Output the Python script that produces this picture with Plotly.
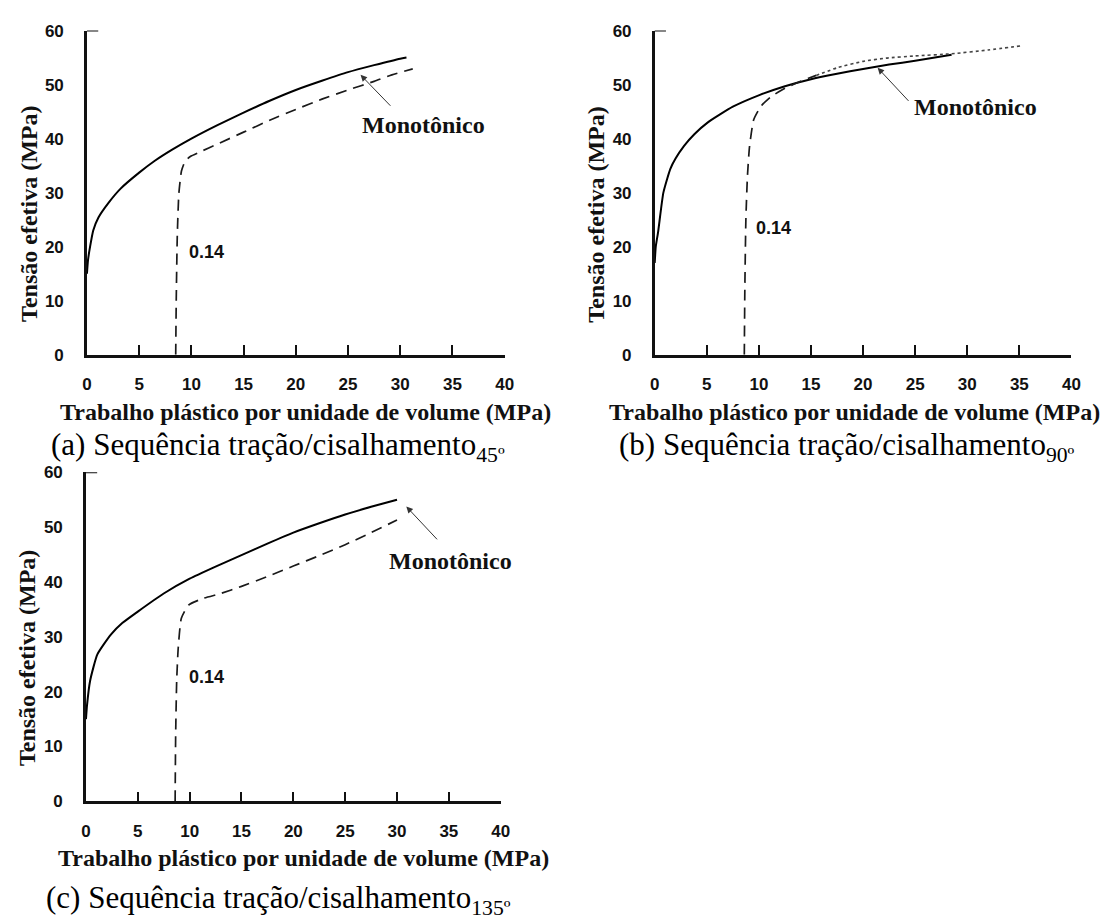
import plotly.graph_objects as go

# ---------------- data ----------------
a_mono_x = [0, 0.1, 0.3, 0.6, 1.1, 2.1, 3.2, 5, 6.5, 8.2, 10, 12.5, 15, 17.5, 20, 22.5, 25, 27.5, 30, 30.6]
a_mono_y = [15, 17.5, 20, 23, 25.4, 28.2, 30.7, 33.7, 35.9, 38.0, 40, 42.5, 44.8, 47.0, 49.0, 50.7, 52.3, 53.6, 54.8, 55.0]
a_pre_x = [8.5, 8.55, 8.65, 8.8, 9.05, 9.4, 9.9, 10.9, 12.5, 15, 17.5, 20, 22.5, 25, 27.5, 29.2, 31.2]
a_pre_y = [0, 10, 22, 29.8, 34, 35.8, 36.7, 37.6, 39.0, 41.2, 43.4, 45.4, 47.3, 49.0, 50.6, 51.8, 52.9]

b_mono_x = [0, 0.1, 0.33, 0.83, 1.5, 2.0, 2.8, 3.8, 5.1, 7.5, 10.1, 12.5, 15, 17.5, 20, 22.5, 25, 28.5]
b_mono_y = [17, 20, 22.8, 30.0, 34.4, 36.3, 38.6, 40.8, 43, 45.9, 48.1, 49.7, 51.0, 52.0, 52.9, 53.7, 54.4, 55.5]
b_pre_x = [8.6, 8.65, 8.75, 8.9, 9.1, 9.5, 10.2, 11.2, 12.5, 14, 15.5]
b_pre_y = [0, 12, 25, 33, 38.5, 43.5, 46, 47.8, 49.3, 50.6, 51.7]
b_pre2_x = [15.5, 17.5, 20, 22.2, 25, 28.5, 32, 35.3]
b_pre2_y = [51.7, 53.1, 54.3, 54.9, 55.3, 55.7, 56.4, 57.2]

c_mono_x = [0, 0.1, 0.4, 1.1, 2.4, 3.5, 5, 7.5, 10, 12.5, 15, 17.5, 20, 22.5, 25, 27.5, 30]
c_mono_y = [15, 17.5, 22, 26.8, 30.4, 32.5, 34.6, 37.9, 40.6, 42.8, 44.9, 47.0, 49.0, 50.7, 52.3, 53.7, 55]
c_pre_x = [8.6, 8.65, 8.75, 8.9, 9.2, 9.9, 11.3, 13, 15, 17.5, 20, 22.5, 25, 27.5, 30]
c_pre_y = [0, 12, 22, 28, 33.4, 35.8, 37, 37.9, 39.2, 41.0, 42.9, 44.8, 46.8, 49.0, 51.3]

x_ticks = [0, 5, 10, 15, 20, 25, 30, 35, 40]
y_ticks = [0, 10, 20, 30, 40, 50, 60]

x_title = "Trabalho plástico por unidade de volume (MPa)"
y_title = "Tensão efetiva (MPa)"
prestrain_label = "0.14"
mono_label = "Monotônico"
captions = ["(a) Sequência tração/cisalhamento<sub>45º</sub>",
            "(b) Sequência tração/cisalhamento<sub>90º</sub>",
            "(c) Sequência tração/cisalhamento<sub>135º</sub>"]

# label positions (data coords)
p014 = [(9.6, 19.0), (9.5, 23.5), (9.7, 22.7)]
pmono = [(32.2, 42.6), (30.8, 45.8), (35.2, 43.9)]
arrow_tip = [(26.2, 51.8), (21.4, 53.1), (30.9, 53.75)]
arrow_tail = [(29.2, 45.8), (24.5, 46.7), (34.0, 47.5)]

W, H = 1113, 924

# pixel boxes for the three panels: (x0, x40, y0, y60)
boxes = [(83, 506, 353, 22), (658, 1080, 353, 22), (82, 502, 809, 473)]
xtitle_shift = [10, 0, 10]

fig = go.Figure()

SOLID = dict(color="black", width=2, shape="spline", smoothing=0.5)
DASH = dict(color="#1a1a1a", width=1.7, dash="11px,7px", shape="spline", smoothing=0.5)
DOT = dict(color="#444", width=1.6, dash="3px,3px", shape="spline", smoothing=0.5)

series = [
    [(a_mono_x, a_mono_y, SOLID), (a_pre_x, a_pre_y, DASH)],
    [(b_mono_x, b_mono_y, SOLID), (b_pre_x, b_pre_y, DASH), (b_pre2_x, b_pre2_y, DOT)],
    [(c_mono_x, c_mono_y, SOLID), (c_pre_x, c_pre_y, DASH)],
]

tickfont = dict(family="Liberation Sans, Arial", size=17, color="#111", weight="bold")
titlefont = dict(family="Liberation Serif, Times New Roman", size=24, color="#111", weight="bold")

layout = {}
for i, (x0, x40, y0, y60) in enumerate(boxes):
    n = "" if i == 0 else str(i + 1)
    xa, ya = "x" + n, "y" + n
    for xs, ys, st in series[i]:
        fig.add_trace(go.Scatter(x=xs, y=ys, mode="lines", line=st, xaxis=xa, yaxis=ya,
                                 showlegend=False, hoverinfo="skip"))
    layout["xaxis" + n] = dict(
        domain=[x0 / W, x40 / W], range=[0, 40], anchor=ya,
        tickvals=x_ticks, ticks="inside", ticklen=10, tickwidth=1.5, tickcolor="#111",
        showline=True, linewidth=2.5, linecolor="#111", showgrid=False, zeroline=False,
        tickfont=tickfont, ticklabelstandoff=12, fixedrange=True)
    layout["yaxis" + n] = dict(
        domain=[1 - y0 / H, 1 - y60 / H], range=[0, 60], anchor=xa,
        tickvals=y_ticks, ticks="", showline=True, linewidth=2.5, linecolor="#111",
        showgrid=False, zeroline=False, tickfont=tickfont, ticklabelstandoff=17, fixedrange=True)
    # small cap tick at top of y axis
    fig.add_shape(type="line", xref=xa + " domain", yref=ya, x0=0, x1=0.027, y0=60, y1=60,
                  line=dict(color="#111", width=2))
    # axis titles
    if i == 1:
        fig.add_annotation(text=x_title, xref="paper", yref="paper",
                           x=1111 / W, y=1 - (y0 + 58) / H,
                           showarrow=False, font=titlefont, xanchor="right", yanchor="middle")
    else:
        fig.add_annotation(text=x_title, xref="paper", yref="paper",
                           x=(x0 + x40) / 2 / W + xtitle_shift[i] / W, y=1 - (y0 + 58) / H,
                           showarrow=False, font=titlefont, xanchor="center", yanchor="middle")
    fig.add_annotation(text=y_title, xref="paper", yref="paper",
                       x=(x0 - 59) / W, y=1 - ((y0 + y60) / 2 + 22) / H, textangle=-90,
                       showarrow=False, font=titlefont, xanchor="center", yanchor="middle")
    # 0.14 label
    fig.add_annotation(text=prestrain_label, x=p014[i][0], y=p014[i][1], xref=xa, yref=ya,
                       showarrow=False, xanchor="left", yanchor="middle",
                       font=dict(family="Liberation Sans, Arial", size=18, color="#111", weight="bold"))
    # Monotonico label
    fig.add_annotation(text=mono_label, x=pmono[i][0], y=pmono[i][1], xref=xa, yref=ya,
                       showarrow=False, xanchor="center", yanchor="middle",
                       font=dict(family="Liberation Serif, Times New Roman", size=24, color="#111", weight="bold"))
    # arrow
    fig.add_annotation(x=arrow_tip[i][0], y=arrow_tip[i][1], xref=xa, yref=ya,
                       ax=arrow_tail[i][0], ay=arrow_tail[i][1], axref=xa, ayref=ya,
                       text="", showarrow=True, arrowhead=2, arrowsize=1.3, arrowwidth=1,
                       arrowcolor="#333")

# captions
cap_font = dict(family="Liberation Serif, Times New Roman", size=31, color="black")
cap_pos = [(45, 447), (620, 447), (40, 910)]
for txt, (cx, cy) in zip(captions, cap_pos):
    fig.add_annotation(text=txt, xref="paper", yref="paper", x=cx / W, y=1 - cy / H,
                       showarrow=False, xanchor="left", yanchor="middle", font=cap_font)

fig.update_layout(**layout)
fig.update_layout(width=W, height=H, margin=dict(l=0, r=0, t=0, b=0),
                  paper_bgcolor="white", plot_bgcolor="white", showlegend=False)

fig.write_html("out.html", config={"displayModeBar": False})
